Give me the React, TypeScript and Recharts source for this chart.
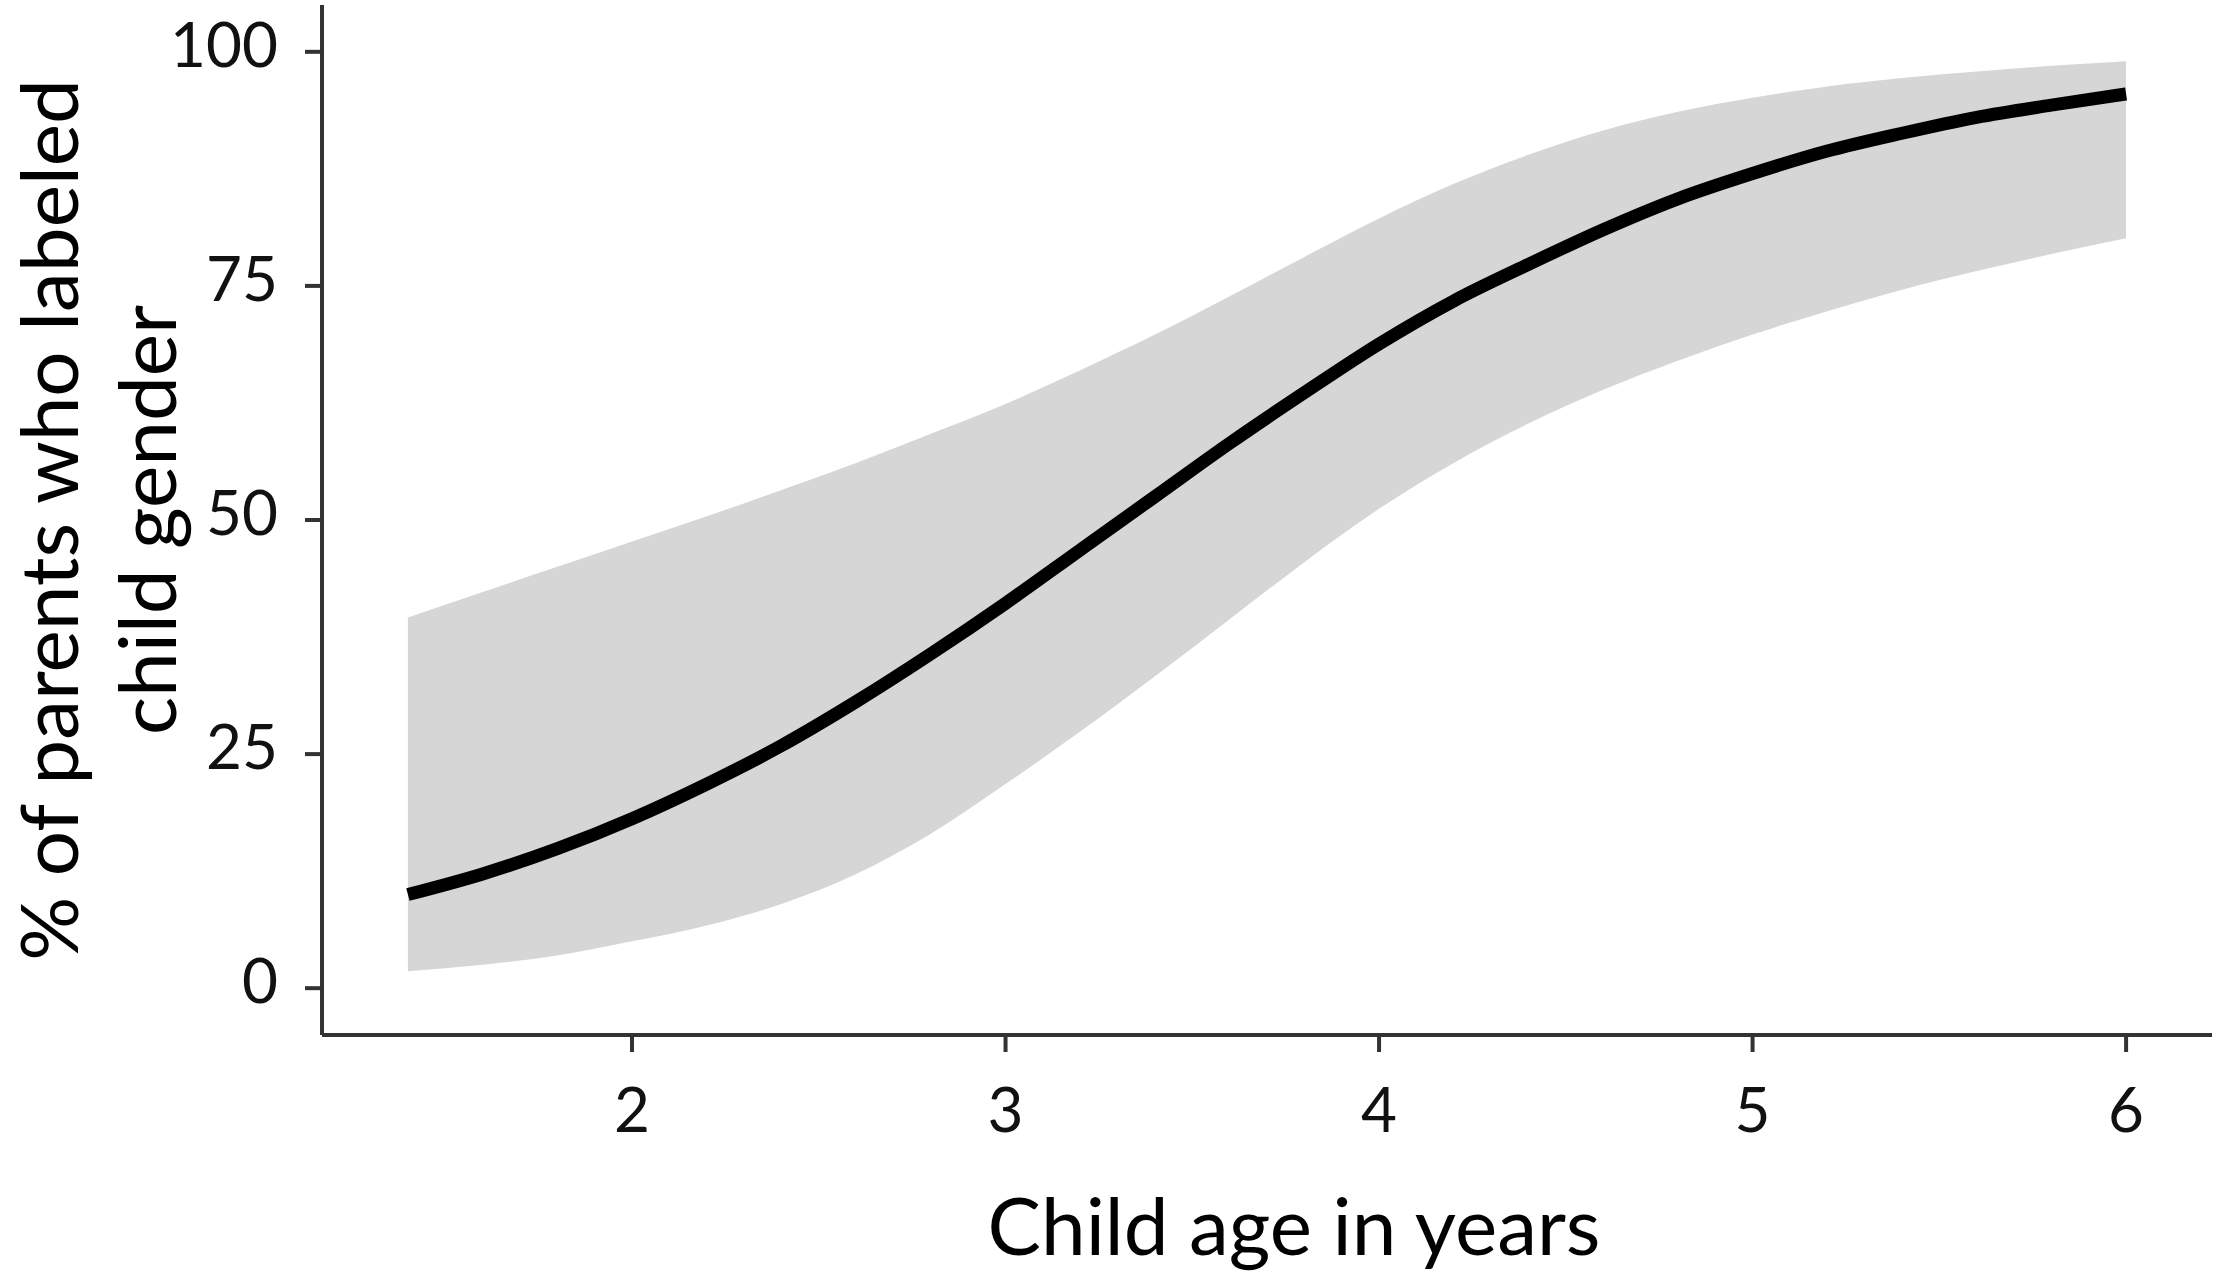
import React from "react";
import {
  ComposedChart,
  Area,
  Line,
  XAxis,
  YAxis,
} from "recharts";

// child age in years
const AGES = [
  1.4, 1.6, 1.8, 2.0, 2.2, 2.4, 2.6, 2.8, 3.0, 3.2, 3.4, 3.6, 3.8, 4.0, 4.2,
  4.4, 4.6, 4.8, 5.0, 5.2, 5.4, 5.6, 5.8, 6.0,
];

// fitted % of parents who labeled child gender
const FIT = [
  10.0, 12.2, 14.9, 18.1, 21.8, 25.9, 30.6, 35.7, 41.1, 46.8, 52.5, 58.2,
  63.6, 68.8, 73.4, 77.3, 81.0, 84.3, 87.0, 89.4, 91.3, 93.0, 94.3, 95.5,
];

// confidence band
const LOWER = [
  1.8, 2.5, 3.5, 5.0, 6.7, 9.0, 12.2, 16.5, 21.8, 27.4, 33.3, 39.4, 45.5,
  51.2, 56.1, 60.3, 63.9, 67.0, 69.8, 72.3, 74.6, 76.6, 78.4, 80.1,
];
const UPPER = [
  39.6, 42.3, 45.0, 47.7, 50.4, 53.2, 56.1, 59.2, 62.4, 66.0, 69.8, 73.9,
  78.1, 82.2, 85.9, 89.0, 91.6, 93.6, 95.1, 96.3, 97.2, 97.9, 98.5, 99.0,
];

const X_TICKS = [2, 3, 4, 5, 6];
const Y_TICKS = [0, 25, 50, 75, 100];

const data = AGES.map((age, i) => ({
  age,
  fit: FIT[i],
  band: [LOWER[i], UPPER[i]],
}));

const FONT = "Lato, 'Noto Sans', sans-serif";
const AXIS_COLOR = "#333333";

function XTick({ x, y, payload }: any) {
  return (
    <text x={x} y={y + 80} textAnchor="middle" fontSize={62} fontFamily={FONT} fill="#111">
      {payload.value}
    </text>
  );
}

function YTick({ x, y, payload }: any) {
  return (
    <text x={x} y={y + 15} textAnchor="end" fontSize={62} fontFamily={FONT} fill="#111">
      {payload.value}
    </text>
  );
}

function YTitle({ viewBox }: any) {
  const cy = viewBox.y + viewBox.height / 2;
  return (
    <g fontSize={80} fontFamily={FONT} fill="#000">
      <text x={78} y={cy} textAnchor="middle" transform={`rotate(-90, 78, ${cy})`}>
        % of parents who labeled
      </text>
      <text x={176} y={cy} textAnchor="middle" transform={`rotate(-90, 176, ${cy})`}>
        child gender
      </text>
    </g>
  );
}

function XTitle({ viewBox }: any) {
  const cx = viewBox.x + viewBox.width / 2 + 27;
  return (
    <text x={cx} y={viewBox.y + 220} textAnchor="middle" fontSize={80} fontFamily={FONT} fill="#000">
      Child age in years
    </text>
  );
}

export default function App() {
  return (
    <div style={{ position: "absolute", left: 0, top: 0, background: "#fff" }}>
      <ComposedChart
        width={2217}
        height={1271}
        data={data}
        margin={{ top: 5, right: 5, left: 0, bottom: 0 }}
      >
        <XAxis
          dataKey="age"
          type="number"
          domain={[1.17, 6.23]}
          ticks={X_TICKS}
          allowDataOverflow
          height={236}
          stroke={AXIS_COLOR}
          strokeWidth={4}
          tickSize={17}
          tickMargin={0}
          tick={<XTick />}
          label={{ content: <XTitle /> }}
        />
        <YAxis
          type="number"
          domain={[-5, 105]}
          ticks={Y_TICKS}
          allowDataOverflow
          width={322}
          stroke={AXIS_COLOR}
          strokeWidth={4}
          tickSize={17}
          tickMargin={27}
          tick={<YTick />}
          label={{ content: <YTitle /> }}
        />
        <Area
          dataKey="band"
          type="monotone"
          fill="#d6d6d6"
          fillOpacity={1}
          stroke="none"
          isAnimationActive={false}
        />
        <Line
          dataKey="fit"
          type="monotone"
          stroke="#000"
          strokeWidth={13}
          dot={false}
          isAnimationActive={false}
        />
      </ComposedChart>
    </div>
  );
}
